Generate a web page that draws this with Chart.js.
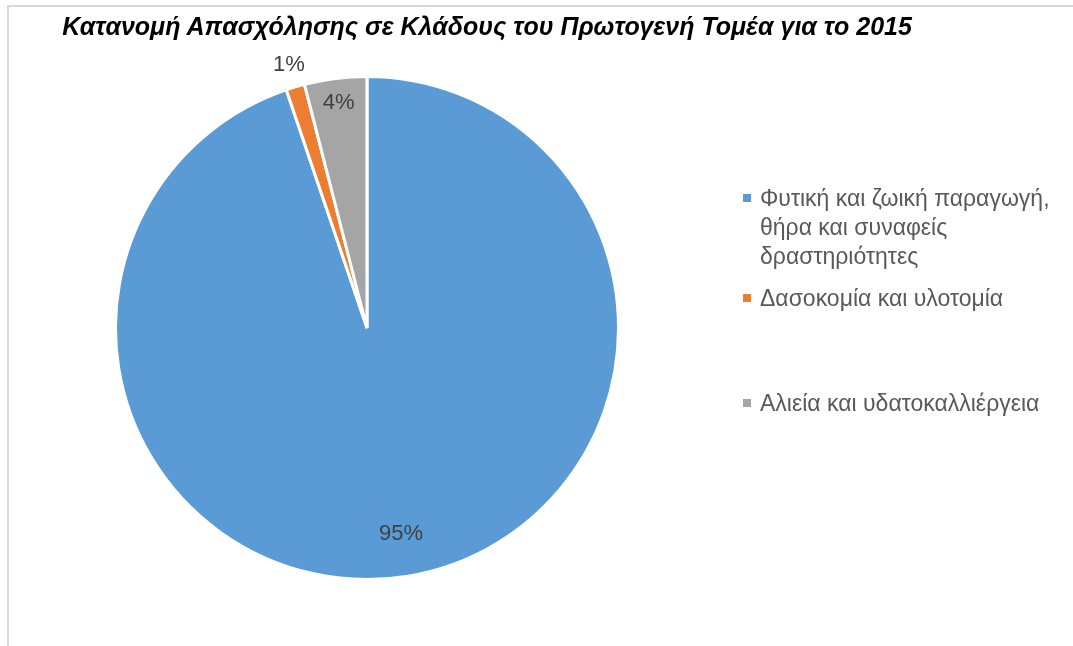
<!DOCTYPE html>
<html lang="el">
<head>
    <meta charset="UTF-8">
    <script src="https://cdn.jsdelivr.net/npm/chart.js"></script>
    <title>Κατανομή Απασχόλησης 2015</title>
    <style>
        body {
            margin: 0;
            width: 1073px;
            height: 646px;
            overflow: hidden;
            background: #fff;
            font-family: "Liberation Sans", Arial, sans-serif;
            position: relative;
        }
        .frame {
            position: absolute;
            left: 7px;
            top: 5px;
            width: 1200px;
            height: 700px;
            border-left: 2px solid #d9d9d9;
            border-top: 2px solid #d9d9d9;
        }
        .chart-box {
            position: absolute;
            left: 0;
            top: 0;
            width: 1073px;
            height: 646px;
        }
        .title {
            position: absolute;
            left: 0;
            width: 974px;
            top: 12px;
            text-align: center;
            font-size: 25px;
            font-weight: bold;
            font-style: italic;
            color: #000;
            white-space: nowrap;
        }
        .legend {
            position: absolute;
            left: 740px;
            top: 184px;
            width: 330px;
        }
        .legend-item {
            display: flex;
            align-items: flex-start;
            height: 105px;
            font-size: 23px;
            line-height: 29px;
            color: #595959;
        }
        .legend-item:first-child {
            height: 100px;
        }
        .legend-item .box {
            flex: none;
            width: 8px;
            height: 8px;
            margin: 10px 9px 0 3px;
        }
        .legend-item .txt {
            width: 305px;
        }
    </style>
</head>
<body>
<div class="frame"></div>
<div class="chart-box">
    <canvas id="pieChart" width="1073" height="646"></canvas>
</div>
<div class="title">Κατανομή Απασχόλησης σε Κλάδους του Πρωτογενή Τομέα για το 2015</div>
<div class="legend" id="legend"></div>

<script>
    // data (share of employment, %)
    const categories = [
        'Φυτική και ζωική παραγωγή, θήρα και συναφείς δραστηριότητες',
        'Δασοκομία και υλοτομία',
        'Αλιεία και υδατοκαλλιέργεια'
    ];
    const shares = [94.8, 1.2, 4.0];
    const colors = ['#5B9BD5', '#ED7D31', '#A5A5A5'];

    // where each percentage label sits, as a fraction of the radius
    const labelRadius = [0.83, 1.09, 0.9];

    const total = shares.reduce((a, b) => a + b, 0);

    // simple percent labels, no datalabels plugin available
    const pctLabels = {
        id: 'pctLabels',
        afterDatasetsDraw(chart) {
            const ctx = chart.ctx;
            const meta = chart.getDatasetMeta(0);
            ctx.save();
            ctx.font = '22px "Liberation Sans", Arial, sans-serif';
            ctx.fillStyle = '#404040';
            ctx.textAlign = 'center';
            ctx.textBaseline = 'middle';
            meta.data.forEach((arc, i) => {
                const p = arc.getProps(['x', 'y', 'startAngle', 'endAngle', 'outerRadius'], true);
                const mid = (p.startAngle + p.endAngle) / 2;
                const r = p.outerRadius * labelRadius[i];
                const txt = Math.round(shares[i] / total * 100) + '%';
                ctx.fillText(txt, p.x + Math.cos(mid) * r, p.y + Math.sin(mid) * r);
            });
            ctx.restore();
        }
    };

    const ctx = document.getElementById('pieChart').getContext('2d');
    new Chart(ctx, {
        type: 'pie',
        data: {
            labels: categories,
            datasets: [{
                data: shares,
                backgroundColor: colors,
                borderColor: '#ffffff',
                borderWidth: 3,
                hoverOffset: 0
            }]
        },
        options: {
            responsive: false,
            animation: false,
            events: [],
            layout: {
                padding: { left: 114, top: 75, right: 453, bottom: 65 }
            },
            plugins: {
                legend: { display: false },
                tooltip: { enabled: false }
            }
        },
        plugins: [pctLabels]
    });

    // legend on the right, built from the same arrays
    const legendEl = document.getElementById('legend');
    categories.forEach((name, i) => {
        const item = document.createElement('div');
        item.className = 'legend-item';
        const box = document.createElement('span');
        box.className = 'box';
        box.style.background = colors[i];
        const text = document.createElement('span');
        text.className = 'txt';
        text.textContent = name;
        item.appendChild(box);
        item.appendChild(text);
        legendEl.appendChild(item);
    });
</script>
</body>
</html>
